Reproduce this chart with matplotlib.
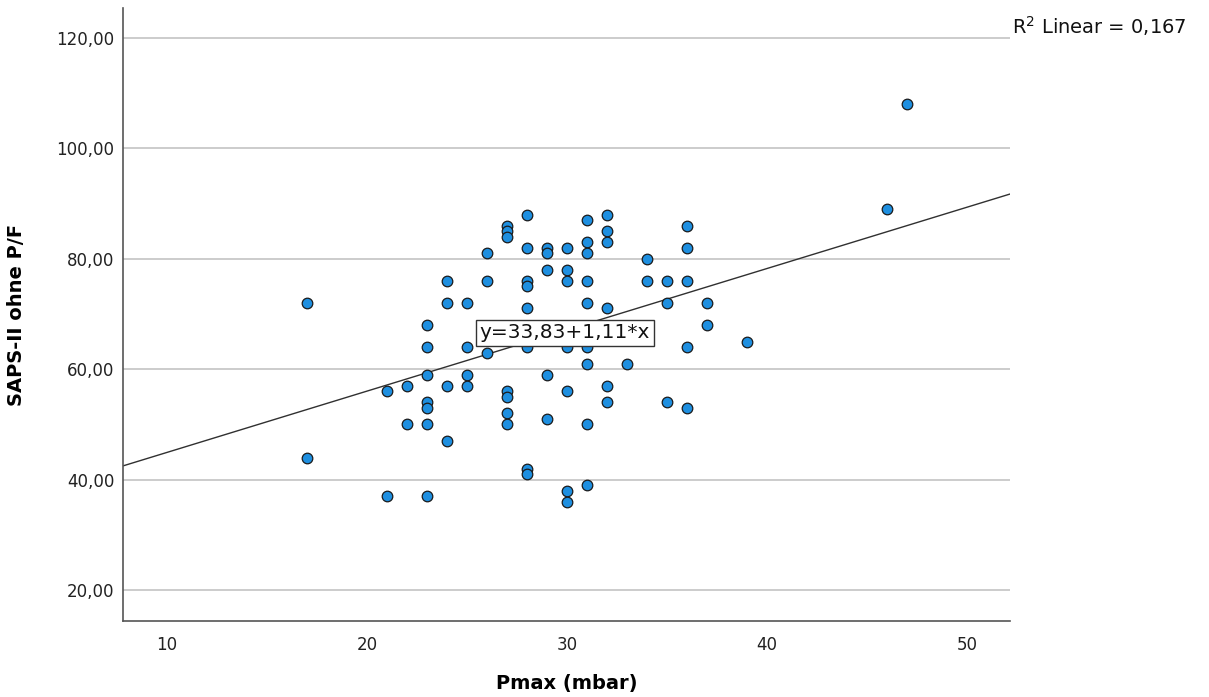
import matplotlib
matplotlib.use("Agg")
import matplotlib.pyplot as plt
import numpy as np

# Pmax (mbar) and SAPS-II without P/F
pmax = [17, 17,
        21, 21,
        22, 22,
        23, 23, 23, 23, 23, 23, 23,
        24, 24, 24, 24,
        25, 25, 25, 25,
        26, 26, 26,
        27, 27, 27, 27, 27, 27, 27,
        28, 28, 28, 28, 28, 28, 28, 28,
        29, 29, 29, 29, 29,
        30, 30, 30, 30, 30, 30, 30,
        31, 31, 31, 31, 31, 31, 31, 31, 31,
        32, 32, 32, 32, 32, 32,
        33,
        34, 34,
        35, 35, 35,
        36, 36, 36, 36, 36,
        37, 37,
        39,
        46,
        47]
saps = [72, 44,
        56, 37,
        57, 50,
        68, 64, 59, 54, 53, 50, 37,
        76, 72, 57, 47,
        72, 64, 59, 57,
        81, 76, 63,
        86, 85, 84, 56, 55, 52, 50,
        88, 82, 76, 75, 71, 64, 42, 41,
        82, 81, 78, 59, 51,
        82, 78, 76, 64, 56, 38, 36,
        87, 83, 81, 76, 72, 64, 61, 50, 39,
        88, 85, 83, 71, 57, 54,
        61,
        80, 76,
        76, 72, 54,
        86, 82, 76, 64, 53,
        72, 68,
        65,
        89,
        108]

intercept = 33.83
slope = 1.11
r2 = 0.167
yticks = [20, 40, 60, 80, 100, 120]
xticks = [10, 20, 30, 40, 50]

fig = plt.figure(figsize=(12.09, 6.97), dpi=100)
ax = fig.add_axes([0.1017, 0.109, 0.7337, 0.8795])

xlim = (7.8, 52.15)
ylim = (14.4, 125.4)
ax.set_xlim(xlim)
ax.set_ylim(ylim)

for y in yticks:
    ax.axhline(y, color="#c8c8c8", linewidth=1.3, zorder=0)

xs = np.array(xlim)
ax.plot(xs, intercept + slope * xs, color="#303030", linewidth=1.0, zorder=2)

ax.scatter(pmax, saps, s=58, color="#1e8fe0", edgecolors="#1a1a1a",
           linewidths=0.9, zorder=3)

ax.text(29.9, 66.6, "y=33,83+1,11*x", fontsize=14.5, ha="center", va="center",
        color="#111111", zorder=4,
        bbox=dict(boxstyle="square,pad=0.18", facecolor="white",
                  edgecolor="#333333", linewidth=1.0))

ax.set_xticks(xticks)
ax.set_xticklabels([str(v) for v in xticks])
ax.set_yticks(yticks)
ax.set_yticklabels([f"{v:.2f}".replace(".", ",") for v in yticks])
ax.tick_params(axis="both", length=0, labelsize=12, colors="#222222")
ax.tick_params(axis="x", pad=11)
ax.tick_params(axis="y", pad=6)

for side in ["top", "right"]:
    ax.spines[side].set_visible(False)
for side in ["left", "bottom"]:
    ax.spines[side].set_color("#555555")
    ax.spines[side].set_linewidth(1.2)

ax.set_xlabel("Pmax (mbar)", fontsize=14, fontweight="bold", labelpad=14)
ax.set_ylabel("SAPS-II ohne P/F", fontsize=14, fontweight="bold", labelpad=22)

fig.text(0.837, 0.963, "R$^2$ Linear = " + f"{r2:.3f}".replace(".", ","),
         fontsize=14, ha="left", va="center", color="#111111")

fig.savefig("out.png", dpi=100, facecolor="white")
